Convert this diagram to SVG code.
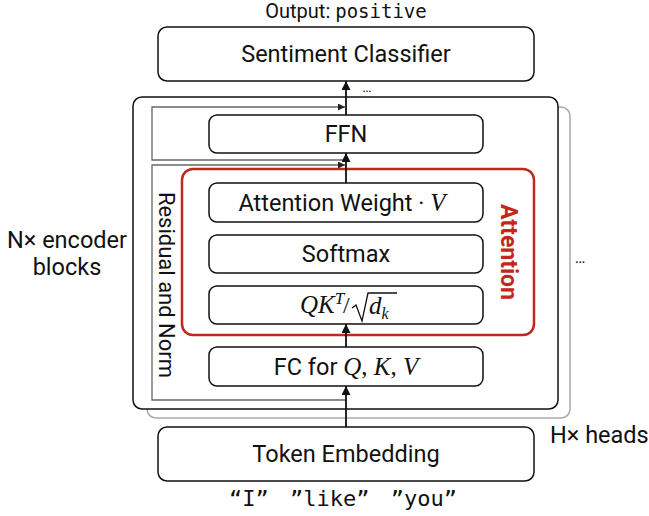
<svg xmlns="http://www.w3.org/2000/svg" width="649" height="516" viewBox="0 0 649 516">
<style>
.box{fill:#fff;stroke:#111;stroke-width:1.5}
.lbl{font-family:Roboto,"Liberation Sans",sans-serif;font-size:23.5px;fill:#111;text-anchor:middle}
.math{font-family:"Liberation Serif","DejaVu Serif",serif;font-style:italic}
.mono{font-family:"DejaVu Sans Mono","Liberation Mono",monospace}
.res{fill:none;stroke:#666;stroke-width:1.3}
.flow{fill:none;stroke:#111;stroke-width:1.8}
</style>
<defs>
<marker id="ah" viewBox="0 0 10 10" refX="10" refY="5" markerWidth="10" markerHeight="9" markerUnits="userSpaceOnUse" orient="auto">
<path d="M0,0 L10,5 L0,10 z" fill="#111"/>
</marker>
<marker id="ahs" viewBox="0 0 10 10" refX="10" refY="5" markerWidth="8" markerHeight="7" markerUnits="userSpaceOnUse" orient="auto">
<path d="M0,0 L10,5 L0,10 z" fill="#222"/>
</marker>
</defs>

<g id="output-label">
<text x="346" y="18" style="font-family:Roboto,'Liberation Sans',sans-serif;font-size:20px;fill:#111" text-anchor="middle">Output: <tspan class="mono" style="font-size:19px">positive</tspan></text>
</g>

<g id="sentiment-classifier">
<rect class="box" x="158" y="27" width="376" height="54" rx="9"/>
<text class="lbl" x="346" y="62">Sentiment Classifier</text>
</g>

<g id="heads-stack">
<rect x="147" y="107" width="423" height="311" rx="9" fill="#fff" stroke="#aaa" stroke-width="1.5"/>
<text x="580" y="263" style="font-family:Roboto,'Liberation Sans',sans-serif;font-size:16px;fill:#111" text-anchor="middle">…</text>
<text x="550" y="443" style="font-family:Roboto,'Liberation Sans',sans-serif;font-size:23.5px;fill:#111">H× heads</text>
</g>

<g id="encoder-block">
<rect x="133" y="97" width="425" height="312" rx="9" fill="#fff" stroke="#111" stroke-width="1.5"/>
<text class="lbl" x="67" y="248">N× encoder</text>
<text class="lbl" x="67" y="275">blocks</text>
</g>

<g id="residual-label">
<text class="lbl" transform="translate(159,285) rotate(90)" x="0" y="0" style="font-size:22px">Residual and Norm</text>
</g>

<g id="attention">
<rect x="182" y="169" width="352" height="166" rx="11" fill="none" stroke="#c0281c" stroke-width="2.5"/>
<text transform="translate(501,252) rotate(90)" x="0" y="0" style="font-family:Roboto,'Liberation Sans',sans-serif;font-size:23px;font-weight:bold;fill:#c0281c" text-anchor="middle">Attention</text>
</g>

<g id="ffn">
<rect class="box" x="209" y="115" width="274" height="38" rx="8"/>
<text class="lbl" x="346" y="142">FFN</text>
</g>

<g id="attention-weight">
<rect class="box" x="209" y="183" width="274" height="39" rx="8"/>
<text class="lbl" x="342" y="211">Attention Weight · <tspan class="math" style="font-size:25px">V</tspan></text>
</g>

<g id="softmax">
<rect class="box" x="209" y="235" width="274" height="38" rx="8"/>
<text class="lbl" x="346" y="262">Softmax</text>
</g>

<g id="qk">
<rect class="box" x="209" y="286" width="274" height="38" rx="8"/>
<text x="300" y="313" class="math" style="font-size:25px;fill:#111">QK<tspan dy="-9" style="font-size:17px">T</tspan></text>
<text x="343" y="313" style="font-family:'Liberation Serif',serif;font-size:24px;fill:#111">/</text>
<path d="M352,308 L356,305 L362,321 L368,293 L397,293" fill="none" stroke="#111" stroke-width="1.3"/>
<text x="369" y="314" class="math" style="font-size:25px;fill:#111">d<tspan dy="5" style="font-size:16px">k</tspan></text>
</g>

<g id="fc">
<rect class="box" x="209" y="347" width="274" height="39" rx="8"/>
<text class="lbl" x="346" y="375">FC for <tspan class="math" style="font-size:25px">Q</tspan><tspan style="font-family:'Liberation Serif',serif;font-size:25px">, </tspan><tspan class="math" style="font-size:25px">K</tspan><tspan style="font-family:'Liberation Serif',serif;font-size:25px">, </tspan><tspan class="math" style="font-size:25px">V</tspan></text>
</g>

<g id="token-embedding">
<rect class="box" x="158" y="427" width="376" height="54" rx="9"/>
<text class="lbl" x="346" y="462">Token Embedding</text>
<text x="343" y="506" class="mono" style="font-size:22px;fill:#111;word-spacing:8px" text-anchor="middle">“I” ”like” ”you”</text>
</g>

<g id="connectors">
<path class="res" d="M346,160 H152 V107 H345" marker-end="url(#ahs)"/>
<path class="res" d="M346,400 H152 V165 H345" marker-end="url(#ahs)"/>
<line class="flow" x1="346" y1="427" x2="346" y2="386" marker-end="url(#ah)"/>
<line class="flow" x1="346" y1="347" x2="346" y2="324" marker-end="url(#ah)"/>
<line class="flow" x1="346" y1="183" x2="346" y2="153" marker-end="url(#ah)"/>
<line class="flow" x1="346" y1="115" x2="346" y2="81" marker-end="url(#ah)"/>
<text x="367" y="92" style="font-family:Roboto,'Liberation Sans',sans-serif;font-size:14px;fill:#111" text-anchor="middle">…</text>
</g>
</svg>
